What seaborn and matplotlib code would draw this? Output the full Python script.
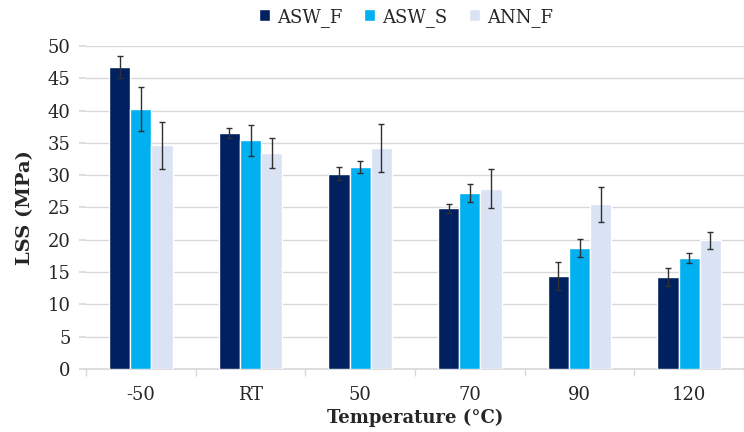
import pandas as pd
import matplotlib.pyplot as plt
import seaborn as sns

# values
temps = ['-50', 'RT', '50', '70', '90', '120']
series = ['ASW_F', 'ASW_S', 'ANN_F']
asw_f = [46.8, 36.5, 30.2, 24.9, 14.4, 14.2]
asw_s = [40.3, 35.4, 31.3, 27.3, 18.7, 17.2]
ann_f = [34.6, 33.4, 34.2, 27.9, 25.5, 19.9]
asw_f_err = [1.7, 0.8, 1.0, 0.7, 2.2, 1.4]
asw_s_err = [3.4, 2.4, 0.9, 1.4, 1.4, 0.8]
ann_f_err = [3.6, 2.3, 3.7, 3.0, 2.7, 1.3]
colors = ['#002060', '#00B0F0', '#DAE3F3']

rows = []
for name, vals, errs in [('ASW_F', asw_f, asw_f_err),
                         ('ASW_S', asw_s, asw_s_err),
                         ('ANN_F', ann_f, ann_f_err)]:
    for t, v, e in zip(temps, vals, errs):
        rows.append({'Temperature': t, 'LSS': v, 'err': e, 'Series': name})
df = pd.DataFrame(rows)

sns.set_theme(style="white")
plt.rcParams['font.family'] = ['DejaVu Serif']

fig = plt.figure(figsize=(7.44, 4.32), dpi=100)
ax = fig.add_axes([0.1156, 0.146, 0.8844, 0.7475])

sns.barplot(data=df, x='Temperature', y='LSS', hue='Series', order=temps,
            hue_order=series, palette=colors, saturation=1, errorbar=None,
            width=0.58, gap=0.0, edgecolor='white', linewidth=1, ax=ax,
            zorder=3)

# error bars placed on the bars drawn by seaborn
for container, name in zip(ax.containers, series):
    sub = df[df['Series'] == name].set_index('Temperature').loc[temps]
    xs = [b.get_x() + b.get_width() / 2 for b in container]
    ax.errorbar(xs, sub['LSS'], yerr=sub['err'], fmt='none', ecolor='#303030',
                elinewidth=1, capsize=2.5, capthick=1, zorder=4)

ax.set_ylim(0, 50)
ax.set_yticks(range(0, 51, 5))
ax.set_xlim(-0.5, 5.4)
ax.yaxis.grid(True, color='#D9D9D9', linewidth=1, zorder=0)
for s in ['top', 'right', 'left']:
    ax.spines[s].set_visible(False)
ax.spines['bottom'].set_color('#D9D9D9')
ax.set_xticks([i - 0.5 for i in range(7)], minor=True)
ax.tick_params(axis='x', which='major', length=0, labelsize=13, pad=12,
               labelcolor='#262626')
ax.tick_params(axis='x', which='minor', length=5, color='#D9D9D9', bottom=True)
ax.tick_params(axis='y', length=5, color='#D9D9D9', labelsize=13,
               labelcolor='#262626', pad=6, left=True)

ax.set_xlabel('Temperature (°C)', fontsize=13, fontweight='bold', labelpad=4)
ax.set_ylabel('LSS (MPa)', fontsize=14, fontweight='bold', labelpad=10)

ax.legend(loc='lower center', bbox_to_anchor=(0.486, 1.01), ncol=3,
          frameon=False, fontsize=13, handlelength=0.6, handleheight=0.6,
          handletextpad=0.4, columnspacing=1.2)

fig.savefig('out.png', dpi=100)
